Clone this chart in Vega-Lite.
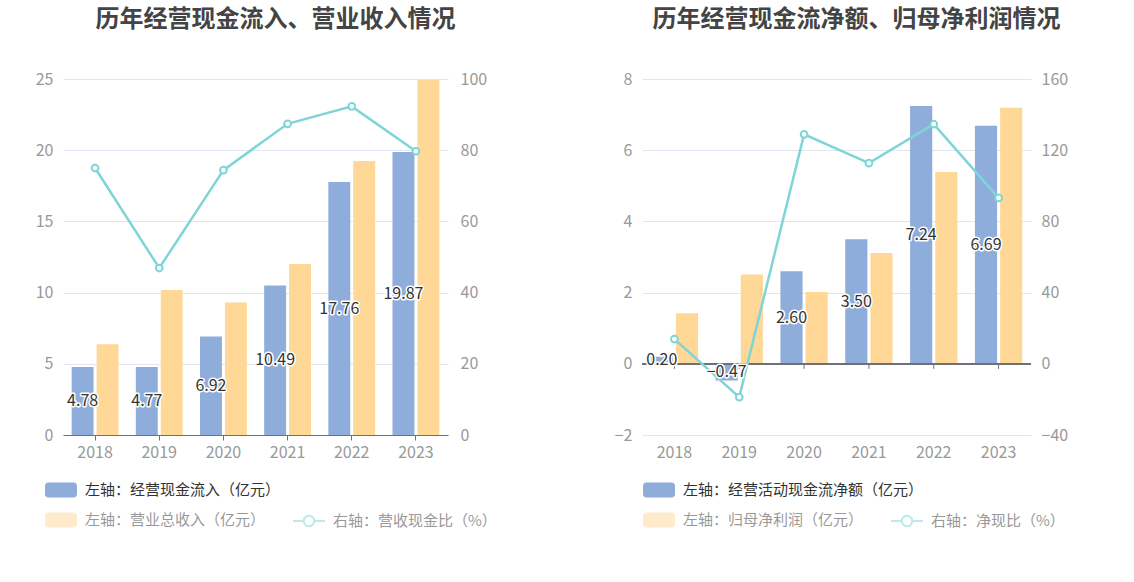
{
  "$schema": "https://vega.github.io/schema/vega-lite/v6.json",
  "background": "white",
  "padding": {"left": 18, "top": 8, "right": 5, "bottom": 5},
  "spacing": 100,
  "config": {
    "font": "Noto Sans CJK SC",
    "view": {"stroke": null},
    "axis": {"labelFont": "Noto Sans CJK SC", "labelColor": "#999", "labelFontSize": 15, "title": null},
    "legend": {"labelFont": "Noto Sans CJK SC"}
  },
  "datasets": {
    "L_bar": [
      {"year": "2018", "s": "左轴：经营现金流入（亿元）", "v": 4.78},
      {"year": "2019", "s": "左轴：经营现金流入（亿元）", "v": 4.77},
      {"year": "2020", "s": "左轴：经营现金流入（亿元）", "v": 6.92},
      {"year": "2021", "s": "左轴：经营现金流入（亿元）", "v": 10.49},
      {"year": "2022", "s": "左轴：经营现金流入（亿元）", "v": 17.76},
      {"year": "2023", "s": "左轴：经营现金流入（亿元）", "v": 19.87},
      {"year": "2018", "s": "左轴：营业总收入（亿元）", "v": 6.37},
      {"year": "2019", "s": "左轴：营业总收入（亿元）", "v": 10.18},
      {"year": "2020", "s": "左轴：营业总收入（亿元）", "v": 9.30},
      {"year": "2021", "s": "左轴：营业总收入（亿元）", "v": 12.01},
      {"year": "2022", "s": "左轴：营业总收入（亿元）", "v": 19.24},
      {"year": "2023", "s": "左轴：营业总收入（亿元）", "v": 24.93}
    ],
    "L_line": [
      {"year": "2018", "r": 75.0},
      {"year": "2019", "r": 46.9},
      {"year": "2020", "r": 74.4},
      {"year": "2021", "r": 87.4},
      {"year": "2022", "r": 92.3},
      {"year": "2023", "r": 79.7}
    ],
    "R_bar": [
      {"year": "2018", "s": "左轴：经营活动现金流净额（亿元）", "v": 0.20},
      {"year": "2019", "s": "左轴：经营活动现金流净额（亿元）", "v": -0.47},
      {"year": "2020", "s": "左轴：经营活动现金流净额（亿元）", "v": 2.60},
      {"year": "2021", "s": "左轴：经营活动现金流净额（亿元）", "v": 3.50},
      {"year": "2022", "s": "左轴：经营活动现金流净额（亿元）", "v": 7.24},
      {"year": "2023", "s": "左轴：经营活动现金流净额（亿元）", "v": 6.69},
      {"year": "2018", "s": "左轴：归母净利润（亿元）", "v": 1.42},
      {"year": "2019", "s": "左轴：归母净利润（亿元）", "v": 2.51},
      {"year": "2020", "s": "左轴：归母净利润（亿元）", "v": 2.02},
      {"year": "2021", "s": "左轴：归母净利润（亿元）", "v": 3.11},
      {"year": "2022", "s": "左轴：归母净利润（亿元）", "v": 5.39},
      {"year": "2023", "s": "左轴：归母净利润（亿元）", "v": 7.19}
    ],
    "R_line": [
      {"year": "2018", "r": 13.9},
      {"year": "2019", "r": -18.7},
      {"year": "2020", "r": 128.9},
      {"year": "2021", "r": 112.7},
      {"year": "2022", "r": 134.6},
      {"year": "2023", "r": 93.2}
    ]
  },
  "hconcat": [
    {
      "width": 385,
      "height": 356,
      "title": {"text": "历年经营现金流入、营业收入情况", "fontSize": 24, "fontWeight": "bold", "color": "#444", "anchor": "middle", "frame": "group", "offset": 39, "dx": 20},
      "encoding": {
        "x": {"field": "year", "type": "nominal", "scale": {"type": "band", "paddingInner": 0.27, "paddingOuter": 0.135},
              "axis": {"labelAngle": 0, "domainColor": "#6E7079", "tickColor": "#6E7079", "tickSize": 5, "labelPadding": 4, "labelFontSize": 16}}
      },
      "layer": [
        {
          "data": {"name": "L_bar"},
          "mark": {"type": "bar"},
          "encoding": {
            "xOffset": {"field": "s", "type": "nominal", "scale": {"domain": ["左轴：经营现金流入（亿元）", "左轴：营业总收入（亿元）"], "paddingInner": 0.12}},
            "y": {"field": "v", "type": "quantitative", "scale": {"domain": [0, 25]},
                  "axis": {"orient": "left", "values": [0, 5, 10, 15, 20, 25], "grid": true, "gridColor": "#E0E6F1", "domain": false, "ticks": false, "labelPadding": 10, "minExtent": 45, "maxExtent": 45, "labelFontSize": 16}},
            "color": {"field": "s", "type": "nominal",
                      "scale": {"domain": ["左轴：经营现金流入（亿元）", "左轴：营业总收入（亿元）"], "range": ["#8FADDB", "#FFD897"]},
                      "legend": {"orient": "none", "legendX": -18, "legendY": 395, "direction": "vertical", "title": null, "padding": 0,
                                 "symbolType": "M-0.8,-0.47H0.8A0.2,0.2 0 0 1 1,-0.27V0.27A0.2,0.2 0 0 1 0.8,0.47H-0.8A0.2,0.2 0 0 1 -1,0.27V-0.27A0.2,0.2 0 0 1 -0.8,-0.47Z",
                                 "symbolSize": 1024, "symbolStrokeWidth": 0, "labelFontSize": 15, "labelColor": "#333", "labelOffset": 8, "rowPadding": 6, "labelLimit": 400,
                                 "encode": {"symbols": {"update": {"opacity": {"signal": "datum.value === '左轴：经营现金流入（亿元）' ? 1 : 0.5"}}},
                                            "labels": {"update": {"opacity": {"signal": "datum.value === '左轴：经营现金流入（亿元）' ? 1 : 0.5"}}}}}}
          }
        },
        {
          "data": {"name": "L_line"},
          "mark": {"type": "line", "strokeWidth": 2.5, "point": {"filled": false, "fill": "white", "size": 45, "strokeWidth": 2}},
          "encoding": {
            "y": {"field": "r", "type": "quantitative", "scale": {"domain": [0, 100]},
                  "axis": {"orient": "right", "values": [0, 20, 40, 60, 80, 100], "grid": false, "domain": false, "ticks": false, "labelPadding": 12, "minExtent": 45, "maxExtent": 45, "labelFontSize": 16}},
            "stroke": {"datum": "右轴：营收现金比（%）", "type": "nominal", "scale": {"range": ["#7FD5D6"]},
                       "legend": {"orient": "none", "legendX": 229, "legendY": 425, "title": null, "padding": 0,
                                  "symbolType": "M-1,0H-0.33M0.33,0H1M-0.33,0A0.33,0.33 0 1 0 0.33,0A0.33,0.33 0 1 0 -0.33,0",
                                  "symbolSize": 1024, "symbolStrokeWidth": 2, "symbolOpacity": 0.5, "symbolFillColor": "white",
                                  "labelFontSize": 15, "labelColor": "#999", "labelOffset": 7, "labelLimit": 400,
                                  "encode": {"symbols": {"update": {"fill": {"value": "white"}}}}}}
          }
        },
        {
          "data": {"name": "L_bar"},
          "transform": [{"filter": "datum.s === '左轴：经营现金流入（亿元）'"}],
          "mark": {"type": "text", "fontSize": 16, "stroke": "white", "strokeWidth": 3, "strokeJoin": "round", "fill": "white", "baseline": "middle"},
          "encoding": {
            "xOffset": {"field": "s", "type": "nominal"},
            "y": {"field": "v", "type": "quantitative", "scale": {"domain": [0, 50]}, "axis": null},
            "text": {"field": "v", "type": "quantitative", "format": ".2f"}
          }
        },
        {
          "data": {"name": "L_bar"},
          "transform": [{"filter": "datum.s === '左轴：经营现金流入（亿元）'"}],
          "mark": {"type": "text", "fontSize": 16, "fill": "#333", "baseline": "middle"},
          "encoding": {
            "xOffset": {"field": "s", "type": "nominal"},
            "y": {"field": "v", "type": "quantitative", "scale": {"domain": [0, 50]}, "axis": null},
            "text": {"field": "v", "type": "quantitative", "format": ".2f"}
          }
        }
      ],
      "resolve": {"scale": {"y": "independent"}}
    },
    {
      "width": 389,
      "height": 356,
      "title": {"text": "历年经营现金流净额、归母净利润情况", "fontSize": 24, "fontWeight": "bold", "color": "#444", "anchor": "middle", "frame": "group", "offset": 39, "dx": 20},
      "encoding": {
        "x": {"field": "year", "type": "nominal", "scale": {"type": "band", "paddingInner": 0.27, "paddingOuter": 0.135},
              "axis": {"labelAngle": 0, "domain": false, "ticks": false, "labelPadding": 9, "labelFontSize": 16}}
      },
      "layer": [
        {
          "data": {"name": "R_bar"},
          "mark": {"type": "bar"},
          "encoding": {
            "xOffset": {"field": "s", "type": "nominal", "scale": {"domain": ["左轴：经营活动现金流净额（亿元）", "左轴：归母净利润（亿元）"], "paddingInner": 0.12}},
            "y": {"field": "v", "type": "quantitative", "scale": {"domain": [-2, 8]},
                  "axis": {"orient": "left", "values": [-2, 0, 2, 4, 6, 8], "grid": true, "gridColor": "#E0E6F1", "domain": false, "ticks": false, "labelPadding": 10, "minExtent": 45, "maxExtent": 45, "labelFontSize": 16}},
            "color": {"field": "s", "type": "nominal",
                      "scale": {"domain": ["左轴：经营活动现金流净额（亿元）", "左轴：归母净利润（亿元）"], "range": ["#8FADDB", "#FFD897"]},
                      "legend": {"orient": "none", "legendX": 1, "legendY": 395, "direction": "vertical", "title": null, "padding": 0,
                                 "symbolType": "M-0.8,-0.47H0.8A0.2,0.2 0 0 1 1,-0.27V0.27A0.2,0.2 0 0 1 0.8,0.47H-0.8A0.2,0.2 0 0 1 -1,0.27V-0.27A0.2,0.2 0 0 1 -0.8,-0.47Z",
                                 "symbolSize": 1024, "symbolStrokeWidth": 0, "labelFontSize": 15, "labelColor": "#333", "labelOffset": 8, "rowPadding": 6, "labelLimit": 400,
                                 "encode": {"symbols": {"update": {"opacity": {"signal": "datum.value === '左轴：经营活动现金流净额（亿元）' ? 1 : 0.5"}}},
                                            "labels": {"update": {"opacity": {"signal": "datum.value === '左轴：经营活动现金流净额（亿元）' ? 1 : 0.5"}}}}}}
          }
        },
        {
          "data": {"name": "R_bar"},
          "mark": {"type": "rule", "color": "#6E7079", "strokeWidth": 1},
          "encoding": {
            "x": null,
            "y": {"datum": 0, "type": "quantitative", "scale": {"domain": [-2, 8]}, "axis": null}
          }
        },
        {
          "data": {"name": "R_line"},
          "mark": {"type": "rule", "color": "#6E7079", "strokeWidth": 1},
          "encoding": {
            "y": {"datum": 0, "type": "quantitative", "scale": {"domain": [-2, 8]}, "axis": null},
            "y2": {"datum": -0.14}
          }
        },
        {
          "data": {"name": "R_line"},
          "mark": {"type": "line", "strokeWidth": 2.5, "point": {"filled": false, "fill": "white", "size": 45, "strokeWidth": 2}},
          "encoding": {
            "y": {"field": "r", "type": "quantitative", "scale": {"domain": [-40, 160]},
                  "axis": {"orient": "right", "values": [-40, 0, 40, 80, 120, 160], "grid": false, "domain": false, "ticks": false, "labelPadding": 10, "minExtent": 45, "maxExtent": 45, "labelFontSize": 16}},
            "stroke": {"datum": "右轴：净现比（%）", "type": "nominal", "scale": {"range": ["#7FD5D6"]},
                       "legend": {"orient": "none", "legendX": 248, "legendY": 425, "title": null, "padding": 0,
                                  "symbolType": "M-1,0H-0.33M0.33,0H1M-0.33,0A0.33,0.33 0 1 0 0.33,0A0.33,0.33 0 1 0 -0.33,0",
                                  "symbolSize": 1024, "symbolStrokeWidth": 2, "symbolOpacity": 0.5, "symbolFillColor": "white",
                                  "labelFontSize": 15, "labelColor": "#999", "labelOffset": 7, "labelLimit": 400,
                                  "encode": {"symbols": {"update": {"fill": {"value": "white"}}}}}}
          }
        },
        {
          "data": {"name": "R_bar"},
          "transform": [{"filter": "datum.s === '左轴：经营活动现金流净额（亿元）'"}],
          "mark": {"type": "text", "fontSize": 16, "stroke": "white", "strokeWidth": 3, "strokeJoin": "round", "fill": "white", "baseline": "middle"},
          "encoding": {
            "xOffset": {"field": "s", "type": "nominal"},
            "y": {"field": "v", "type": "quantitative", "scale": {"domain": [-4, 16]}, "axis": null},
            "text": {"field": "v", "type": "quantitative", "format": ".2f"}
          }
        },
        {
          "data": {"name": "R_bar"},
          "transform": [{"filter": "datum.s === '左轴：经营活动现金流净额（亿元）'"}],
          "mark": {"type": "text", "fontSize": 16, "fill": "#333", "baseline": "middle"},
          "encoding": {
            "xOffset": {"field": "s", "type": "nominal"},
            "y": {"field": "v", "type": "quantitative", "scale": {"domain": [-4, 16]}, "axis": null},
            "text": {"field": "v", "type": "quantitative", "format": ".2f"}
          }
        }
      ],
      "resolve": {"scale": {"y": "independent"}}
    }
  ],
  "resolve": {"scale": {"color": "independent", "stroke": "independent", "x": "independent", "xOffset": "independent"}, "legend": {"color": "independent", "stroke": "independent"}}
}
